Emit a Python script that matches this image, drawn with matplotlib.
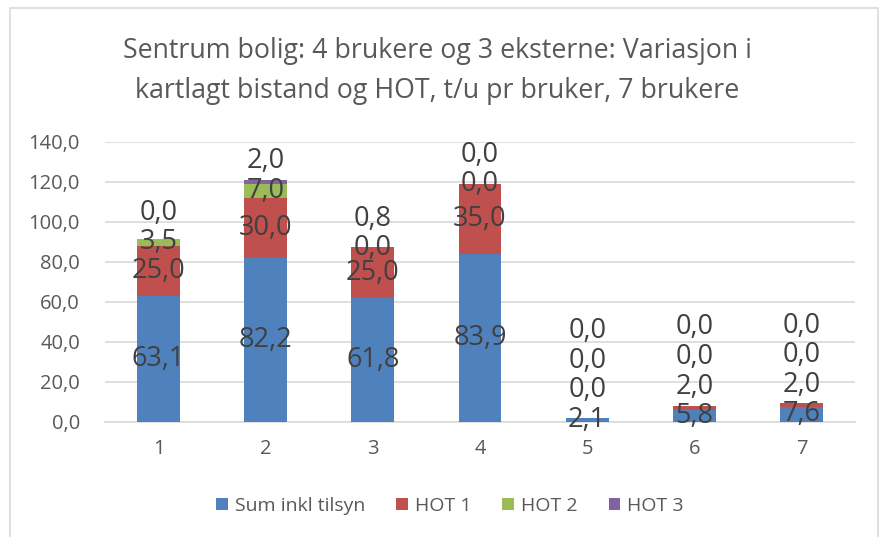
import matplotlib
matplotlib.use("Agg")
import matplotlib.pyplot as plt
from matplotlib.patches import Rectangle
import numpy as np

categories = ["1", "2", "3", "4", "5", "6", "7"]
sum_inkl_tilsyn = [63.1, 82.2, 61.8, 83.9, 2.1, 5.8, 7.6]
hot1 = [25.0, 30.0, 25.0, 35.0, 0.0, 2.0, 2.0]
hot2 = [3.5, 7.0, 0.0, 0.0, 0.0, 0.0, 0.0]
hot3 = [0.0, 2.0, 0.8, 0.0, 0.0, 0.0, 0.0]
series_names = ["Sum inkl tilsyn", "HOT 1", "HOT 2", "HOT 3"]
colors = ["#4F81BD", "#C0504D", "#9BBB59", "#8064A2"]
title = "Sentrum bolig: 4 brukere og 3 eksterne: Variasjon i\nkartlagt bistand og HOT, t/u pr bruker, 7 brukere"

FONT = ["Open Sans", "DejaVu Sans"]
plt.rcParams["font.family"] = FONT

fig = plt.figure(figsize=(8.83, 5.37), dpi=100)
W, H = 883, 537
ax = fig.add_axes([105 / W, 1 - 422 / H, 750 / W, 280 / H])

# outer chart border
fig.patches.append(Rectangle((10 / W, -0.01), 868 / W, 1 - 8 / H + 0.01,
                             transform=fig.transFigure, fill=False,
                             edgecolor="#D9D9D9", linewidth=1.2))

x = np.arange(len(categories))
data = [sum_inkl_tilsyn, hot1, hot2, hot3]
bottom = np.zeros(len(categories))
label_pos = [[] for _ in categories]
for name, vals, c in zip(series_names, data, colors):
    vals = np.array(vals)
    ax.bar(x, vals, 0.4, bottom=bottom, color=c, label=name, zorder=3)
    for i, v in enumerate(vals):
        label_pos[i].append((bottom[i] + v / 2, v))
    bottom = bottom + vals

# data labels (centered, nudged up when crowded like Excel)
for i in range(len(categories)):
    prev = None
    for yc, v in label_pos[i]:
        y = yc
        if prev is not None and y - prev < 10:
            y = prev + 14.8
        ax.text(x[i], y, f"{v:.1f}".replace(".", ","), ha="center", va="center",
                fontsize=19.5, color="#404040", zorder=5)
        prev = y

ax.set_xlim(-0.5, len(categories) - 0.5)
ax.set_ylim(0, 140)
ax.set_yticks(np.arange(0, 141, 20))
ax.set_yticklabels([f"{t:.1f}".replace(".", ",") for t in np.arange(0, 141, 20)])
ax.set_xticks(x)
ax.set_xticklabels(categories)
ax.tick_params(axis="both", length=0, labelsize=14.5, labelcolor="#595959")
ax.tick_params(axis="y", pad=18)
ax.tick_params(axis="x", pad=12)
ax.grid(axis="y", color="#D9D9D9", linewidth=1.2, zorder=0)
for s in ["top", "right", "left"]:
    ax.spines[s].set_visible(False)
ax.spines["bottom"].set_color("#D9D9D9")
ax.spines["bottom"].set_linewidth(1.2)

fig.text(0.495, 1 - 71 / H, title, ha="center", va="center", fontsize=19.3,
         color="#595959", linespacing=1.6)

leg = fig.legend(loc="center", bbox_to_anchor=(450 / W, 1 - 506 / H), ncol=4,
                 frameon=False, fontsize=14, handlelength=0.6, handleheight=0.6,
                 handletextpad=0.35, columnspacing=1.6)
for t in leg.get_texts():
    t.set_color("#595959")

fig.savefig("out.png", dpi=100)
